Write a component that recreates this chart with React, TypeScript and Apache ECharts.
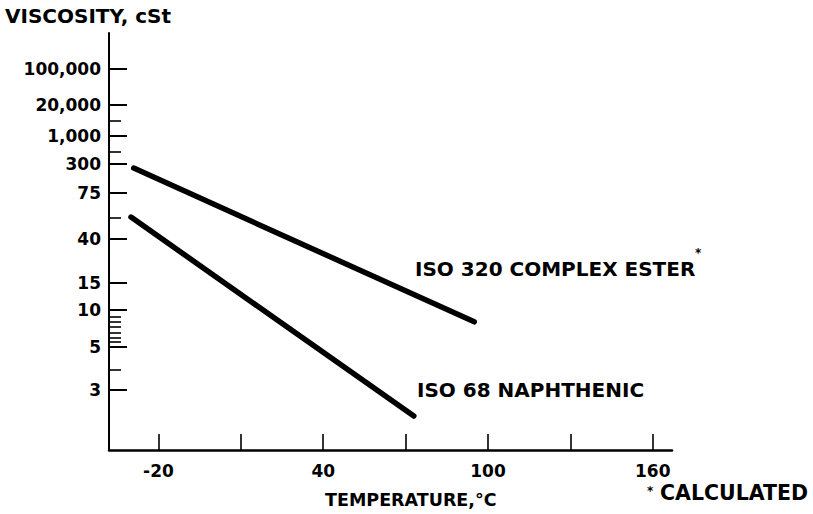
import React, { useEffect, useRef } from "react";
import * as echarts from "echarts";

// Temperature axis (°C)
const xTickValues = [-20, 10, 40, 70, 100, 130, 160];
const xLabelValues = [-20, 40, 100, 160];

// Viscosity axis (cSt): labelled ticks and their place on the chart's non-uniform scale (0–100)
const yTickValues = [3, 5, 10, 15, 40, 75, 300, 1000, 20000, 100000];
const yTickLabels = ["3", "5", "10", "15", "40", "75", "300", "1,000", "20,000", "100,000"];
const yTickScale = [14.4, 24.7, 33.6, 40.0, 50.6, 61.6, 68.6, 75.3, 82.7, 91.4];
const yMinorScale = [19.2, 25.9, 26.9, 28.1, 29.5, 30.7, 31.9, 55.6, 71.5, 78.9];

// Series: [temperature °C, viscosity cSt]
const esterTemps = [-29, 95];
const esterVisc = [246, 8];
const naphTemps = [-30, 73];
const naphVisc = [54, 2.2];

function toScale(v: number): number {
  const lv = Math.log10(v);
  const logs = yTickValues.map((t) => Math.log10(t));
  let i = 0;
  if (lv <= logs[0]) i = 0;
  else if (lv >= logs[logs.length - 1]) i = logs.length - 2;
  else {
    while (i < logs.length - 2 && lv > logs[i + 1]) i++;
  }
  const f = (lv - logs[i]) / (logs[i + 1] - logs[i]);
  return yTickScale[i] + f * (yTickScale[i + 1] - yTickScale[i]);
}

const FONT = "DejaVu Sans";

export default function App() {
  const ref = useRef<HTMLDivElement>(null);
  useEffect(() => {
    if (!ref.current) return;
    const chart = echarts.init(ref.current, undefined, { renderer: "svg" });
    const lineStyle = { color: "#000", width: 5.5, cap: "round" as const };
    chart.setOption({
      animation: false,
      backgroundColor: "#fff",
      grid: { left: 109, right: 141, top: 33, bottom: 64, containLabel: false },
      xAxis: {
        type: "value",
        min: -38,
        max: 167,
        axisLine: { show: true, onZero: false, lineStyle: { color: "#000", width: 2.5 } },
        axisTick: {
          show: true,
          inside: true,
          length: 16,
          customValues: xTickValues,
          lineStyle: { color: "#000", width: 1.6 },
        },
        axisLabel: {
          customValues: xLabelValues,
          margin: 12,
          color: "#000",
          fontFamily: FONT,
          fontWeight: "bold",
          fontSize: 17,
        },
        splitLine: { show: false },
      },
      yAxis: [
        {
          type: "value",
          min: 0,
          max: 100,
          position: "left",
          axisLine: { show: true, onZero: false, lineStyle: { color: "#000", width: 2 } },
          axisTick: {
            show: true,
            inside: true,
            length: 18,
            customValues: yTickScale,
            lineStyle: { color: "#000", width: 2 },
          },
          axisLabel: {
            customValues: yTickScale,
            margin: 8,
            color: "#000",
            fontFamily: FONT,
            fontWeight: "bold",
            fontSize: 17,
            formatter: (val: number) => {
              const idx = yTickScale.findIndex((s) => Math.abs(s - val) < 1e-6);
              return idx >= 0 ? yTickLabels[idx] : "";
            },
          },
          splitLine: { show: false },
        },
        {
          type: "value",
          min: 0,
          max: 100,
          position: "left",
          offset: 0,
          axisLine: { show: false, onZero: false },
          axisTick: {
            show: true,
            inside: true,
            length: 12,
            customValues: yMinorScale,
            lineStyle: { color: "#000", width: 1.6 },
          },
          axisLabel: { show: false },
          splitLine: { show: false },
        },
      ],
      series: [
        {
          name: "ISO 320 COMPLEX ESTER",
          type: "line",
          symbol: "none",
          lineStyle,
          data: esterTemps.map((t, i) => [t, toScale(esterVisc[i])]),
        },
        {
          name: "ISO 68 NAPHTHENIC",
          type: "line",
          symbol: "none",
          lineStyle,
          data: naphTemps.map((t, i) => [t, toScale(naphVisc[i])]),
        },
      ],
      graphic: [
        {
          type: "text",
          style: { text: "VISCOSITY, cSt", x: 5, y: 16, fill: "#000", font: `bold 20px "${FONT}"`, textVerticalAlign: "middle" },
        },
        {
          type: "text",
          style: { text: "TEMPERATURE,°C", x: 325, y: 500, fill: "#000", font: `bold 17.5px "${FONT}"`, textVerticalAlign: "middle" },
        },
        {
          type: "text",
          style: { text: "ISO 320 COMPLEX ESTER", x: 415, y: 269, fill: "#000", font: `bold 20px "${FONT}"`, textVerticalAlign: "middle" },
        },
        {
          type: "text",
          style: { text: "*", x: 695, y: 253, fill: "#000", font: `bold 12px "${FONT}"`, textVerticalAlign: "middle" },
        },
        {
          type: "text",
          style: { text: "ISO 68 NAPHTHENIC", x: 417, y: 390, fill: "#000", font: `bold 20px "${FONT}"`, textVerticalAlign: "middle" },
        },
        {
          type: "text",
          style: { text: "*", x: 647, y: 491, fill: "#000", font: `bold 12px "${FONT}"`, textVerticalAlign: "middle" },
        },
        {
          type: "text",
          style: { text: "CALCULATED", x: 660, y: 493, fill: "#000", font: `bold 20.5px "${FONT}"`, textVerticalAlign: "middle" },
        },
      ],
    });
    return () => chart.dispose();
  }, []);
  return <div ref={ref} style={{ position: "fixed", left: 0, top: 0, width: 813, height: 514 }} />;
}
